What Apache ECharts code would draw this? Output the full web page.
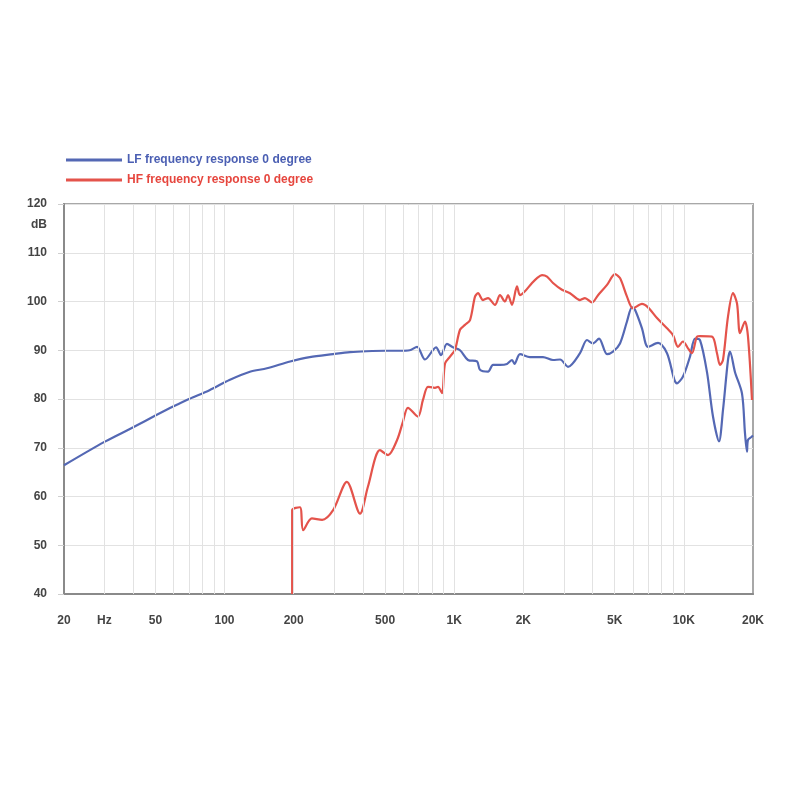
<!DOCTYPE html>
<html>
<head>
<meta charset="utf-8">
<script src="https://cdn.jsdelivr.net/npm/echarts@6/dist/echarts.min.js"></script>
<style>html,body{margin:0;padding:0;background:#fff}#c{width:800px;height:800px}</style>
</head>
<body>
<div id="c"></div>
<script>
const lfName = 'LF frequency response 0 degree';
const hfName = 'HF frequency response 0 degree';

const lfFreq = [20, 30, 40, 50, 60, 70, 86, 105, 129, 153, 193, 235, 297, 352, 416, 500, 580, 640, 689, 746, 834, 876, 930, 988, 1060, 1148, 1257, 1295, 1404, 1476, 1582, 1698, 1786, 1830, 1934, 2138, 2436, 2693, 2890, 3130, 3530, 3786, 4022, 4272, 4628, 4914, 5271, 5654, 5945, 6126, 6571, 6980, 7716, 8445, 9336, 9914, 10634, 11184, 11758, 12610, 13390, 14220, 14802, 15564, 15880, 16700, 17914, 18456, 18830, 19020, 19798, 20000];
const lfDb = [66.4, 71.2, 74.2, 76.6, 78.5, 80.0, 81.8, 83.9, 85.6, 86.3, 87.7, 88.6, 89.2, 89.6, 89.8, 89.9, 89.9, 90.0, 90.7, 88.1, 90.6, 89.0, 91.3, 90.6, 90.0, 88.0, 87.7, 86.0, 85.6, 87.0, 87.0, 87.2, 88.0, 87.2, 89.2, 88.6, 88.6, 88.0, 88.1, 86.6, 89.4, 92.1, 91.4, 92.4, 89.2, 89.7, 91.4, 95.9, 98.8, 98.3, 94.5, 90.7, 91.5, 89.4, 83.2, 84.6, 88.7, 92.4, 92.1, 85.5, 76.4, 71.3, 77.7, 88.0, 89.7, 85.5, 81.1, 73.0, 69.2, 71.6, 72.3, 72.5];

const hfFreq = [197, 197, 213, 220, 240, 266, 297, 341, 389, 421, 475, 515, 564, 598, 629, 695, 731, 769, 825, 850, 885, 912, 959, 1008, 1060, 1114, 1172, 1232, 1270, 1335, 1404, 1505, 1583, 1664, 1715, 1785, 1877, 1934, 2033, 2182, 2294, 2412, 2536, 2693, 2946, 3193, 3530, 3710, 3981, 4229, 4628, 5013, 5271, 5654, 6004, 6571, 6980, 7638, 8445, 8968, 9428, 9914, 10424, 10851, 11409, 11758, 13258, 13938, 14364, 14802, 15564, 16366, 17038, 17558, 18456, 19020, 19798];
const hfDb = [40, 57.2, 57.8, 53.1, 55.5, 55.2, 57.2, 63.0, 56.5, 62.0, 69.5, 68.5, 71.6, 75.3, 78.2, 76.4, 79.8, 82.5, 82.3, 82.5, 81.2, 87.3, 88.7, 90.1, 94.2, 95.2, 96.2, 101.0, 101.7, 100.3, 100.7, 99.3, 101.3, 100.0, 101.3, 99.3, 103.1, 101.3, 102.1, 103.8, 104.8, 105.4, 105.1, 103.8, 102.4, 101.7, 100.3, 100.7, 99.8, 101.3, 103.4, 105.6, 104.8, 101.0, 98.6, 99.5, 98.8, 96.6, 94.5, 93.1, 90.7, 91.8, 90.4, 89.4, 92.8, 92.9, 92.8, 89.4, 87.0, 88.0, 96.9, 101.7, 99.6, 93.5, 95.9, 92.8, 79.8];

const gridFreqs = [20, 30, 40, 50, 60, 70, 80, 90, 100, 200, 300, 400, 500, 600, 700, 800, 900, 1000, 2000, 3000, 4000, 5000, 6000, 7000, 8000, 9000, 10000, 20000];
const labelFreqs = [20, 30, 50, 100, 200, 500, 1000, 2000, 5000, 10000, 20000];
const labelTexts = ['20', 'Hz', '50', '100', '200', '500', '1K', '2K', '5K', '10K', '20K'];

const lfColor = '#5468b4';
const hfColor = '#e4534b';
const labelStyle = {color: '#444', fontSize: 12, fontWeight: 'bold', fontFamily: 'Liberation Sans, Arial, sans-serif'};

const chart = echarts.init(document.getElementById('c'));

const markData = gridFreqs.map(f => {
  const i = labelFreqs.indexOf(f);
  const edge = (f === 20 || f === 20000);
  return {
    xAxis: f,
    lineStyle: {color: edge ? 'rgba(255,255,255,0)' : '#e2e2e2', width: 1, type: 'solid'},
    label: i >= 0 ? Object.assign({show: true, position: 'start', distance: 21, formatter: labelTexts[i]}, labelStyle) : {show: false}
  };
});

chart.setOption({
  animation: false,
  backgroundColor: '#fff',
  grid: {left: 64, right: 47, top: 204, bottom: 206, show: true, borderColor: '#a8a8a8', borderWidth: 2, backgroundColor: 'transparent'},
  legend: {
    orient: 'vertical', left: 66, top: 154, padding: 0, itemWidth: 56, itemHeight: 3, itemGap: 8, icon: 'rect',
    textStyle: {fontSize: 12, fontWeight: 'bold', fontFamily: 'Liberation Sans Narrow, Liberation Sans, Arial, sans-serif'},
    data: [
      {name: lfName, textStyle: {color: '#4b5fb3'}},
      {name: hfName, textStyle: {color: '#e6463e'}}
    ]
  },
  xAxis: {
    type: 'log', logBase: 10, min: 20, max: 20000,
    axisLine: {show: true, lineStyle: {color: '#8a8a8a', width: 2}},
    axisTick: {show: false}, axisLabel: {show: false}, splitLine: {show: false}
  },
  yAxis: {
    type: 'value', min: 40, max: 120, interval: 10,
    name: 'dB', nameLocation: 'end', nameGap: -27,
    nameTextStyle: Object.assign({align: 'right', padding: [0, 17, 0, 0]}, labelStyle),
    axisLine: {show: true, lineStyle: {color: '#8a8a8a', width: 2}},
    axisTick: {show: true, length: 6, lineStyle: {color: '#cfcfcf'}},
    axisLabel: Object.assign({margin: 17}, labelStyle),
    splitLine: {show: true, lineStyle: {color: '#e2e2e2', width: 1}}
  },
  series: [
    {
      name: 'grid', type: 'line', data: [], silent: true, z: 1,
      markLine: {silent: true, symbol: ['none', 'none'], animation: false, data: markData}
    },
    {
      name: lfName, type: 'line', z: 3, showSymbol: false, smooth: 0.3,
      lineStyle: {color: lfColor, width: 2.2}, itemStyle: {color: lfColor},
      data: lfFreq.map((f, i) => [f, lfDb[i]])
    },
    {
      name: hfName, type: 'line', z: 4, showSymbol: false, smooth: 0.3,
      lineStyle: {color: hfColor, width: 2.2}, itemStyle: {color: hfColor},
      data: hfFreq.map((f, i) => [f, hfDb[i]])
    }
  ]
});
</script>
</body>
</html>
